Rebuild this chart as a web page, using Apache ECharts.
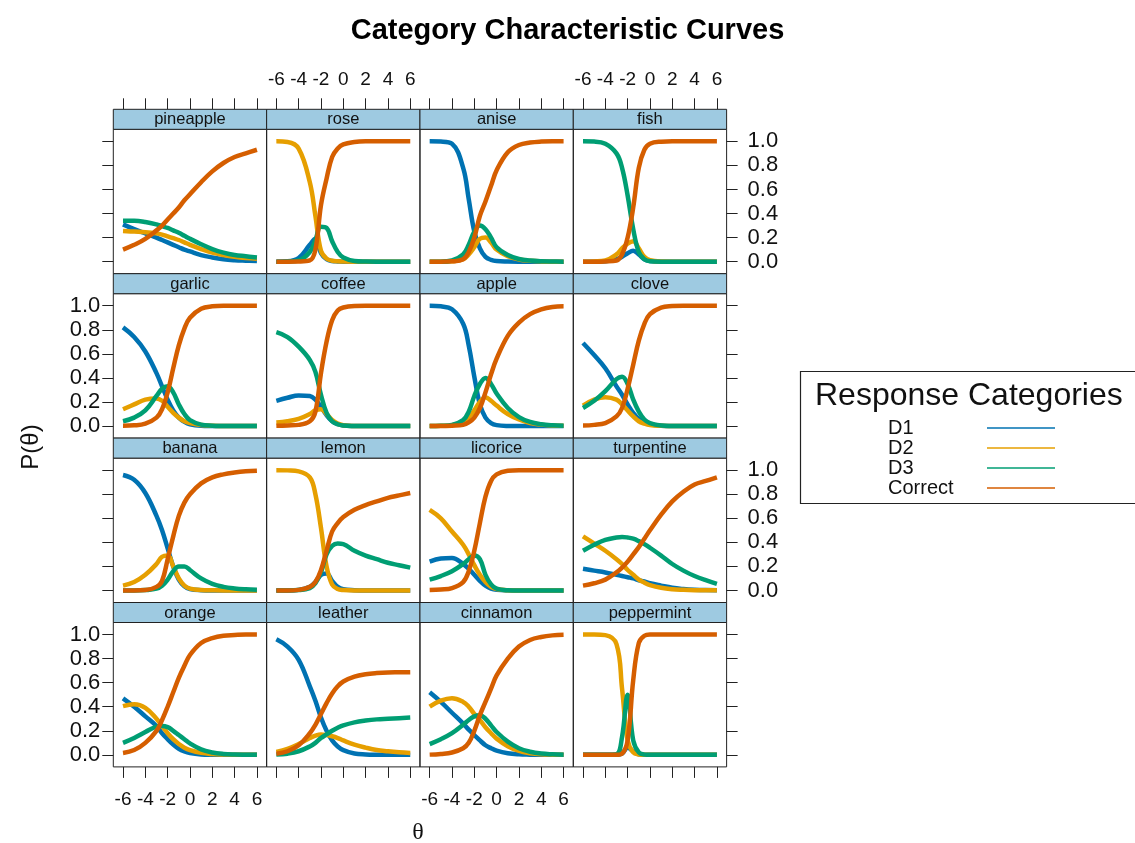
<!DOCTYPE html>
<html>
<head>
<meta charset="utf-8">
<title>Category Characteristic Curves</title>
<script src="https://cdn.jsdelivr.net/npm/echarts@6/dist/echarts.min.js"></script>
<style>
  html, body { margin: 0; padding: 0; background: #fff; }
  #chart { width: 1135px; height: 843px; }
</style>
</head>
<body>
<div id="chart"></div>
<script>
// theta points the curves were read at
const theta = [-6, -5, -4, -3, -2.5, -2, -1.5, -1, -0.5, 0, 1, 2, 3, 4, 5, 6];
const thetaTicks = [-6, -4, -2, 0, 2, 4, 6];
const probTicks = [0, 0.2, 0.4, 0.6, 0.8, 1.0];

const responseNames = ['D1', 'D2', 'D3', 'Correct'];
const responseColors = ['#0072B2', '#E69F00', '#009E73', '#D55E00'];

const panelNames = ['pineapple', 'rose', 'anise', 'fish',
                    'garlic', 'coffee', 'apple', 'clove',
                    'banana', 'lemon', 'licorice', 'turpentine',
                    'orange', 'leather', 'cinnamon', 'peppermint'];

// P(theta) for each item, rows are D1, D2, D3, Correct
const pineapple = [
    [0.31, 0.27, 0.235, 0.20, 0.18, 0.16, 0.14, 0.12, 0.10, 0.085, 0.055, 0.035, 0.02, 0.012, 0.008, 0.005],
    [0.255, 0.25, 0.245, 0.235, 0.225, 0.21, 0.195, 0.18, 0.16, 0.14, 0.105, 0.075, 0.055, 0.04, 0.03, 0.025],
    [0.34, 0.34, 0.33, 0.31, 0.295, 0.28, 0.26, 0.24, 0.215, 0.19, 0.145, 0.105, 0.075, 0.055, 0.045, 0.035],
    [0.10, 0.14, 0.19, 0.26, 0.30, 0.35, 0.40, 0.45, 0.51, 0.56, 0.66, 0.75, 0.82, 0.87, 0.90, 0.93]
];
const rose = [
    [0, 0.003, 0.03, 0.14, 0.19, 0.07, 0.02, 0.005, 0.002, 0, 0, 0, 0, 0, 0, 0],
    [1.0, 0.995, 0.94, 0.66, 0.38, 0.09, 0.025, 0.008, 0.003, 0.001, 0, 0, 0, 0, 0, 0],
    [0, 0.002, 0.01, 0.08, 0.18, 0.29, 0.28, 0.17, 0.08, 0.035, 0.006, 0.001, 0, 0, 0, 0],
    [0, 0, 0.001, 0.01, 0.10, 0.47, 0.69, 0.87, 0.94, 0.975, 0.995, 1, 1, 1, 1, 1]
];
const anise = [
    [1.0, 0.998, 0.98, 0.78, 0.52, 0.25, 0.11, 0.04, 0.015, 0.005, 0.001, 0, 0, 0, 0, 0],
    [0, 0, 0.003, 0.02, 0.06, 0.12, 0.19, 0.20, 0.16, 0.10, 0.045, 0.018, 0.007, 0.002, 0, 0],
    [0, 0, 0.01, 0.06, 0.14, 0.25, 0.30, 0.27, 0.20, 0.12, 0.055, 0.022, 0.009, 0.003, 0.001, 0],
    [0, 0, 0.003, 0.02, 0.08, 0.20, 0.38, 0.50, 0.63, 0.76, 0.91, 0.97, 0.99, 0.998, 1, 1]
];
const fish = [
    [0, 0, 0.003, 0.02, 0.04, 0.07, 0.09, 0.06, 0.02, 0.005, 0, 0, 0, 0, 0, 0],
    [0, 0.002, 0.01, 0.06, 0.11, 0.15, 0.17, 0.11, 0.04, 0.012, 0.001, 0, 0, 0, 0, 0],
    [1.0, 0.998, 0.98, 0.90, 0.78, 0.55, 0.27, 0.08, 0.02, 0.004, 0, 0, 0, 0, 0, 0],
    [0, 0, 0.002, 0.01, 0.06, 0.20, 0.45, 0.78, 0.93, 0.98, 0.997, 1, 1, 1, 1, 1]
];
const garlic = [
    [0.82, 0.74, 0.62, 0.44, 0.33, 0.22, 0.13, 0.07, 0.035, 0.015, 0.003, 0.001, 0, 0, 0, 0],
    [0.14, 0.18, 0.22, 0.23, 0.21, 0.16, 0.11, 0.07, 0.04, 0.025, 0.008, 0.002, 0.001, 0, 0, 0],
    [0.04, 0.07, 0.13, 0.25, 0.31, 0.33, 0.28, 0.18, 0.10, 0.05, 0.012, 0.003, 0.001, 0, 0, 0],
    [0.003, 0.006, 0.02, 0.07, 0.14, 0.28, 0.48, 0.67, 0.81, 0.90, 0.975, 0.995, 1, 1, 1, 1]
];
const coffee = [
    [0.21, 0.235, 0.255, 0.25, 0.22, 0.16, 0.09, 0.04, 0.015, 0.005, 0.001, 0, 0, 0, 0, 0],
    [0.03, 0.04, 0.06, 0.10, 0.13, 0.14, 0.10, 0.05, 0.02, 0.007, 0.001, 0, 0, 0, 0, 0],
    [0.78, 0.74, 0.66, 0.55, 0.45, 0.26, 0.11, 0.04, 0.015, 0.005, 0.001, 0, 0, 0, 0, 0],
    [0.002, 0.005, 0.01, 0.04, 0.12, 0.44, 0.70, 0.88, 0.96, 0.985, 0.998, 1, 1, 1, 1, 1]
];
const apple = [
    [1.0, 0.995, 0.97, 0.85, 0.67, 0.41, 0.18, 0.07, 0.025, 0.008, 0.001, 0, 0, 0, 0, 0],
    [0, 0.002, 0.008, 0.035, 0.07, 0.13, 0.20, 0.24, 0.21, 0.17, 0.10, 0.055, 0.026, 0.012, 0.005, 0.002],
    [0, 0.002, 0.01, 0.05, 0.12, 0.25, 0.35, 0.40, 0.35, 0.27, 0.15, 0.075, 0.034, 0.015, 0.006, 0.002],
    [0, 0, 0.003, 0.01, 0.03, 0.07, 0.15, 0.28, 0.43, 0.56, 0.75, 0.86, 0.93, 0.97, 0.99, 0.995]
];
const clove = [
    [0.69, 0.59, 0.48, 0.33, 0.26, 0.18, 0.11, 0.06, 0.03, 0.015, 0.003, 0, 0, 0, 0, 0],
    [0.17, 0.22, 0.24, 0.22, 0.18, 0.13, 0.08, 0.04, 0.02, 0.008, 0.002, 0, 0, 0, 0, 0],
    [0.15, 0.21, 0.29, 0.39, 0.41, 0.35, 0.22, 0.12, 0.055, 0.025, 0.005, 0.001, 0, 0, 0, 0],
    [0.005, 0.01, 0.025, 0.08, 0.15, 0.31, 0.51, 0.71, 0.85, 0.93, 0.985, 0.997, 1, 1, 1, 1]
];
const banana = [
    [0.96, 0.92, 0.81, 0.62, 0.50, 0.35, 0.20, 0.09, 0.035, 0.012, 0.002, 0, 0, 0, 0, 0],
    [0.04, 0.07, 0.13, 0.22, 0.28, 0.29, 0.20, 0.10, 0.04, 0.015, 0.003, 0.001, 0, 0, 0, 0],
    [0, 0, 0.003, 0.015, 0.04, 0.09, 0.16, 0.20, 0.20, 0.17, 0.10, 0.055, 0.03, 0.017, 0.01, 0.006],
    [0, 0, 0.003, 0.03, 0.08, 0.26, 0.45, 0.62, 0.73, 0.80, 0.89, 0.94, 0.965, 0.98, 0.99, 0.995]
];
const lemon = [
    [0, 0, 0.005, 0.03, 0.07, 0.13, 0.14, 0.08, 0.03, 0.01, 0.002, 0, 0, 0, 0, 0],
    [1.0, 0.998, 0.99, 0.94, 0.80, 0.52, 0.20, 0.05, 0.012, 0.004, 0, 0, 0, 0, 0, 0],
    [0, 0, 0.003, 0.02, 0.06, 0.15, 0.30, 0.37, 0.39, 0.385, 0.33, 0.29, 0.26, 0.23, 0.21, 0.19],
    [0, 0, 0.005, 0.03, 0.07, 0.17, 0.33, 0.49, 0.56, 0.61, 0.67, 0.71, 0.74, 0.77, 0.79, 0.81]
];
const licorice = [
    [0.24, 0.265, 0.27, 0.22, 0.18, 0.13, 0.08, 0.04, 0.016, 0.006, 0.001, 0, 0, 0, 0, 0],
    [0.67, 0.60, 0.49, 0.38, 0.30, 0.21, 0.13, 0.07, 0.03, 0.012, 0.002, 0, 0, 0, 0, 0],
    [0.09, 0.12, 0.16, 0.22, 0.26, 0.29, 0.26, 0.13, 0.05, 0.015, 0.002, 0, 0, 0, 0, 0],
    [0.003, 0.008, 0.02, 0.07, 0.16, 0.33, 0.56, 0.78, 0.91, 0.965, 0.995, 1, 1, 1, 1, 1]
];
const turpentine = [
    [0.18, 0.165, 0.15, 0.13, 0.12, 0.11, 0.10, 0.085, 0.075, 0.06, 0.04, 0.022, 0.012, 0.006, 0.003, 0.002],
    [0.45, 0.39, 0.33, 0.26, 0.22, 0.17, 0.13, 0.09, 0.065, 0.045, 0.022, 0.01, 0.005, 0.002, 0.001, 0.001],
    [0.33, 0.38, 0.42, 0.44, 0.445, 0.44, 0.43, 0.41, 0.385, 0.355, 0.29, 0.22, 0.165, 0.12, 0.085, 0.055],
    [0.04, 0.06, 0.09, 0.15, 0.19, 0.24, 0.30, 0.36, 0.43, 0.50, 0.63, 0.74, 0.82, 0.88, 0.91, 0.94]
];
const orange = [
    [0.47, 0.40, 0.32, 0.24, 0.18, 0.13, 0.085, 0.05, 0.028, 0.015, 0.004, 0.001, 0, 0, 0, 0],
    [0.405, 0.42, 0.39, 0.30, 0.24, 0.18, 0.13, 0.09, 0.06, 0.04, 0.017, 0.007, 0.003, 0.001, 0, 0],
    [0.10, 0.14, 0.19, 0.235, 0.24, 0.23, 0.20, 0.165, 0.13, 0.095, 0.045, 0.02, 0.008, 0.003, 0.001, 0],
    [0.015, 0.04, 0.10, 0.20, 0.29, 0.40, 0.52, 0.64, 0.74, 0.83, 0.93, 0.97, 0.99, 0.996, 1, 1]
];
const leather = [
    [0.96, 0.90, 0.79, 0.57, 0.45, 0.31, 0.20, 0.12, 0.07, 0.04, 0.012, 0.004, 0.001, 0, 0, 0],
    [0.025, 0.05, 0.09, 0.14, 0.16, 0.17, 0.165, 0.155, 0.14, 0.12, 0.085, 0.06, 0.04, 0.03, 0.022, 0.016],
    [0.002, 0.01, 0.03, 0.07, 0.10, 0.14, 0.17, 0.20, 0.225, 0.245, 0.27, 0.285, 0.295, 0.30, 0.305, 0.31],
    [0.01, 0.03, 0.08, 0.18, 0.25, 0.34, 0.43, 0.51, 0.57, 0.61, 0.65, 0.67, 0.68, 0.685, 0.686, 0.687]
];
const cinnamon = [
    [0.52, 0.44, 0.35, 0.26, 0.21, 0.165, 0.12, 0.08, 0.055, 0.035, 0.014, 0.005, 0.002, 0, 0, 0],
    [0.40, 0.45, 0.47, 0.44, 0.40, 0.34, 0.29, 0.23, 0.18, 0.135, 0.072, 0.033, 0.014, 0.005, 0.002, 0.001],
    [0.09, 0.13, 0.18, 0.25, 0.29, 0.32, 0.33, 0.30, 0.245, 0.19, 0.11, 0.055, 0.026, 0.011, 0.005, 0.002],
    [0.002, 0.008, 0.02, 0.055, 0.10, 0.20, 0.33, 0.44, 0.55, 0.66, 0.80, 0.90, 0.955, 0.98, 0.993, 0.998]
];
const peppermint = [
    [0, 0, 0, 0.001, 0.01, 0.06, 0.03, 0.005, 0.001, 0, 0, 0, 0, 0, 0, 0],
    [1, 1, 0.995, 0.92, 0.55, 0.12, 0.02, 0.003, 0, 0, 0, 0, 0, 0, 0, 0],
    [0, 0, 0, 0.005, 0.15, 0.50, 0.12, 0.02, 0.002, 0, 0, 0, 0, 0, 0, 0],
    [0, 0, 0, 0, 0.01, 0.12, 0.62, 0.93, 0.99, 1, 1, 1, 1, 1, 1, 1]
];

const panelCurves = [pineapple, rose, anise, fish,
                     garlic, coffee, apple, clove,
                     banana, lemon, licorice, turpentine,
                     orange, leather, cinnamon, peppermint];

// panel geometry (lattice layout, 4 x 4)
const PANEL_LEFT = 113.3;
const PANEL_W = 153.33;
const PLOT_TOP = 129.3;
const ROW_H = 164.4;
const PLOT_H = 144.4;
const STRIP_H = 20;
const FONT = '"Liberation Sans", Arial, Helvetica, sans-serif';

const grids = [], xAxes = [], yAxes = [], series = [], graphics = [];

panelNames.forEach((name, i) => {
    const r = Math.floor(i / 4);
    const c = i % 4;
    const left = PANEL_LEFT + c * PANEL_W;
    const top = PLOT_TOP + r * ROW_H;

    grids.push({
        left: left, top: top, width: PANEL_W, height: PLOT_H,
        show: true, borderColor: '#222', borderWidth: 1, backgroundColor: 'transparent'
    });

    const xShow = r === 0 || r === 3;
    xAxes.push({
        gridIndex: i, type: 'value', min: -6.87, max: 6.87,
        show: xShow,
        position: r === 0 ? 'top' : 'bottom',
        offset: r === 0 ? STRIP_H : 0,
        axisLine: {show: false, onZero: false},
        splitLine: {show: false},
        axisTick: {show: true, length: 11, customValues: thetaTicks, lineStyle: {color: '#222', width: 1}},
        axisLabel: {
            show: r === 0 ? c % 2 === 1 : c % 2 === 0,
            customValues: thetaTicks, fontSize: 19, color: '#111',
            margin: r === 0 ? 20 : 23, fontFamily: FONT
        }
    });

    const yShow = c === 0 || c === 3;
    yAxes.push({
        gridIndex: i, type: 'value', min: -0.1, max: 1.1,
        show: yShow,
        position: c === 0 ? 'left' : 'right',
        axisLine: {show: false, onZero: false},
        splitLine: {show: false},
        axisTick: {show: true, length: 11, customValues: probTicks, lineStyle: {color: '#222', width: 1}},
        axisLabel: {
            show: c === 0 ? r % 2 === 1 : r % 2 === 0,
            customValues: probTicks, fontSize: 22, color: '#111',
            margin: c === 0 ? 13 : 21, fontFamily: FONT,
            formatter: v => v.toFixed(1)
        }
    });

    panelCurves[i].forEach((vals, k) => {
        series.push({
            type: 'line',
            name: responseNames[k],
            xAxisIndex: i, yAxisIndex: i,
            data: theta.map((t, j) => [t, vals[j]]),
            showSymbol: false, symbol: 'none',
            smooth: 0.4,
            silent: true,
            color: responseColors[k],
            lineStyle: {width: 4.5, color: responseColors[k]}
        });
    });

    // strip with the item name
    graphics.push({
        type: 'rect',
        shape: {x: left, y: top - STRIP_H, width: PANEL_W, height: STRIP_H},
        style: {fill: '#9ecae1', stroke: '#222', lineWidth: 1},
        z: 10
    });
    graphics.push({
        type: 'text',
        x: left + PANEL_W / 2, y: top - STRIP_H / 2 + 0.5,
        style: {text: name, fill: '#111', font: '16.5px ' + FONT, align: 'center', verticalAlign: 'middle'},
        z: 11
    });
});

// legend box and its heading
graphics.push({
    type: 'rect',
    shape: {x: 800.5, y: 371.5, width: 345, height: 132},
    style: {fill: '#fff', stroke: '#222', lineWidth: 1.2},
    z: 1
});
graphics.push({
    type: 'text', x: 815, y: 396,
    style: {text: 'Response Categories', fill: '#111', font: '32px ' + FONT, verticalAlign: 'middle'},
    z: 2
});
// axis titles
graphics.push({
    type: 'text', x: 418, y: 833,
    style: {text: '\u03b8', fill: '#111', font: '24px "Liberation Serif", "DejaVu Serif", serif', align: 'center', verticalAlign: 'middle'}
});
graphics.push({
    type: 'text', x: 31, y: 447, rotation: Math.PI / 2,
    style: {text: 'P(\u03b8)', fill: '#111', font: '24px ' + FONT, align: 'center', verticalAlign: 'middle'}
});

const chart = echarts.init(document.getElementById('chart'), null, {renderer: 'canvas'});
chart.setOption({
    animation: false,
    backgroundColor: '#fff',
    textStyle: {fontFamily: FONT},
    title: {
        text: 'Category Characteristic Curves',
        left: 'center', top: 11,
        textStyle: {fontSize: 29, fontWeight: 'bold', color: '#000', fontFamily: FONT}
    },
    legend: {
        data: responseNames,
        orient: 'vertical',
        left: 888, top: 418,
        align: 'right',
        icon: 'rect',
        itemWidth: 68, itemHeight: 1.6,
        itemGap: 0, padding: 0,
        selectedMode: false,
        z: 5,
        formatter: '{n|{name}}',
        textStyle: {
            color: '#111', fontSize: 20, fontFamily: FONT,
            rich: {n: {width: 94, align: 'left', fontSize: 20, lineHeight: 21.7, fontFamily: FONT}}
        }
    },
    grid: grids,
    xAxis: xAxes,
    yAxis: yAxes,
    series: series,
    graphic: graphics
});
</script>
</body>
</html>
